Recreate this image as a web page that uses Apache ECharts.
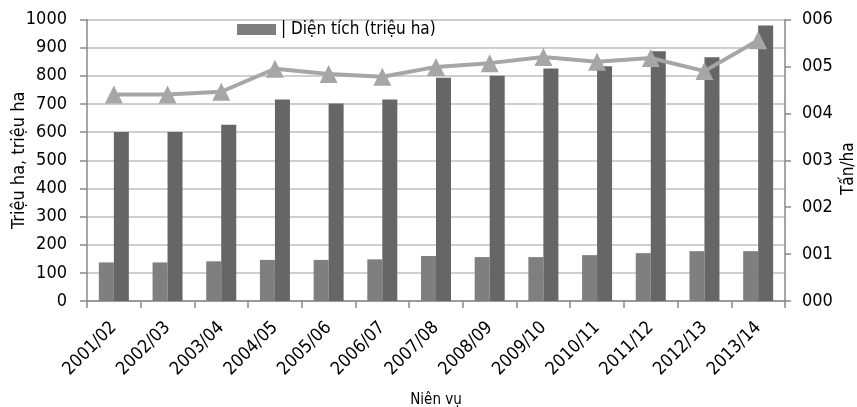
<!DOCTYPE html>
<html>
<head>
<meta charset="utf-8">
<script src="https://cdn.jsdelivr.net/npm/echarts@6/dist/echarts.min.js"></script>
<style>
html,body{margin:0;padding:0;background:#fff;}
#c{width:857px;height:407px;}
</style>
</head>
<body>
<div id="c"></div>
<script>
var categories = ['2001/02','2002/03','2003/04','2004/05','2005/06','2006/07','2007/08','2008/09','2009/10','2010/11','2011/12','2012/13','2013/14'];
var areaValues = [137,137,141,146,146,148,160,156,156,163,170,177,177];
var productionValues = [600,600,626,716,702,716,793,800,826,834,887,866,979];
var yieldValues = [4.40,4.40,4.46,4.95,4.84,4.78,4.99,5.07,5.20,5.10,5.18,4.90,5.56];
var leftTicks = [0,100,200,300,400,500,600,700,800,900,1000];
var rightTickLabels = ['000','001','002','003','004','005','006'];

var font = '"DejaVu Sans Condensed", "DejaVu Sans", sans-serif';
var fs = 18;
var chart = echarts.init(document.getElementById('c'));
chart.setOption({
  animation: false,
  backgroundColor: '#fff',
  textStyle: {fontFamily: font, color: '#000'},
  grid: {left: 87, right: 72, top: 19.5, bottom: 106, containLabel: false, outerBoundsMode: 'none'},
  legend: {
    data: ['Diện tích (triệu ha)'],
    left: 237, top: 21, padding: 0,
    itemWidth: 39, itemHeight: 11, itemGap: 4,
    icon: 'rect',
    formatter: function(n){ return '| ' + n; },
    textStyle: {fontFamily: font, fontSize: 17, color: '#000'}
  },
  xAxis: {
    type: 'category',
    data: categories,
    name: 'Niên vụ',
    nameLocation: 'middle',
    nameGap: 92,
    nameMoveOverlap: false,
    nameTextStyle: {fontFamily: font, fontSize: 15, color: '#000'},
    axisLine: {lineStyle: {color: '#898989', width: 1.5}},
    axisTick: {show: true, length: 7, lineStyle: {color: '#898989', width: 1.5}},
    axisLabel: {rotate: 45, margin: 24, fontFamily: font, fontSize: fs, color: '#000', interval: 0}
  },
  yAxis: [{
    type: 'value',
    min: leftTicks[0], max: leftTicks[leftTicks.length-1], interval: 100,
    name: 'Triệu ha, triệu ha',
    nameLocation: 'middle',
    nameRotate: 90,
    nameGap: 59,
    nameMoveOverlap: false,
    nameTextStyle: {fontFamily: font, fontSize: 18, color: '#000'},
    axisLine: {show: true, lineStyle: {color: '#898989', width: 1.5}},
    axisTick: {show: true, length: 7, lineStyle: {color: '#898989', width: 1.5}},
    axisLabel: {margin: 20, fontFamily: font, fontSize: fs, color: '#000',
      formatter: function(v){ return String(v); }},
    splitLine: {show: true, lineStyle: {color: '#bfbfbf', width: 1.5}}
  },{
    type: 'value',
    min: 0, max: 6, interval: 1,
    name: 'Tấn/ha',
    nameLocation: 'middle',
    nameRotate: 90,
    nameGap: 55,
    nameMoveOverlap: false,
    nameTextStyle: {fontFamily: font, fontSize: 17, color: '#000', padding: [0, 17, 0, 0]},
    axisLine: {show: true, lineStyle: {color: '#898989', width: 1.5}},
    axisTick: {show: true, length: 6, lineStyle: {color: '#898989', width: 1.5}},
    axisLabel: {margin: 17, fontFamily: font, fontSize: fs, color: '#000',
      formatter: function(v){ return rightTickLabels[v]; }},
    splitLine: {show: false}
  }],
  series: [{
    name: 'Diện tích (triệu ha)',
    type: 'bar',
    data: areaValues,
    barWidth: 15, barGap: '0%',
    itemStyle: {color: '#7f7f7f'}
  },{
    name: 'Sản lượng',
    type: 'bar',
    data: productionValues,
    barWidth: 15, barGap: '0%',
    itemStyle: {color: '#666666'}
  },{
    name: 'Năng suất',
    type: 'line',
    yAxisIndex: 1,
    data: yieldValues,
    symbol: 'triangle',
    symbolSize: 18,
    lineStyle: {color: '#a6a6a6', width: 4},
    itemStyle: {color: '#a6a6a6'},
    z: 5
  }]
});
</script>
</body>
</html>
